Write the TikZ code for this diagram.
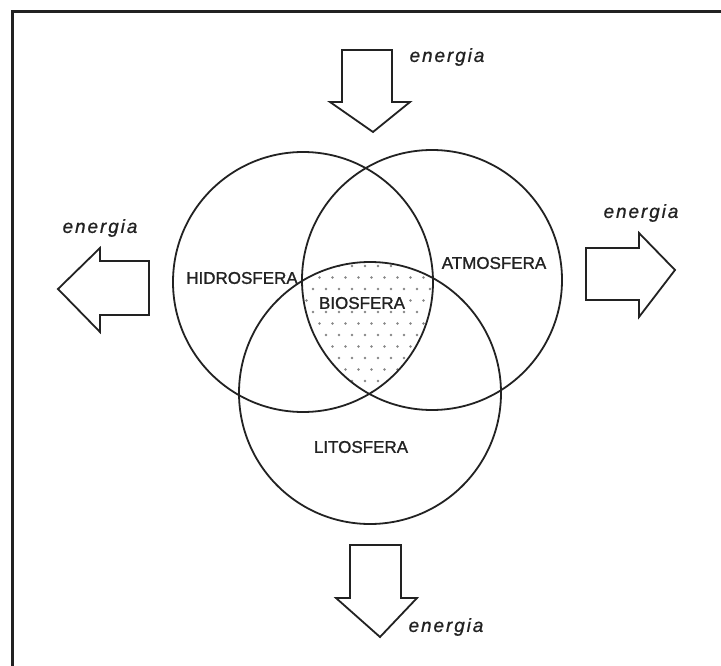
\documentclass[tikz,border=0pt]{standalone}
\usepackage{fontspec}
\setmainfont{Liberation Sans}
\newfontfamily\labfont[FakeBold=1.2]{Liberation Sans}
\newfontfamily\enfont[LetterSpace=10,FakeBold=0.8]{Liberation Sans}
\definecolor{ink}{HTML}{222222}
\begin{document}
\begin{tikzpicture}[x=1pt,y=-1pt,
  sphere/.style={draw=ink,line width=1.8pt},
  lab/.style={text=ink,inner sep=0pt,font=\labfont\fontsize{17}{20}\selectfont},
  enlab/.style={text=ink,inner sep=0pt,font=\enfont\itshape\fontsize{19}{22}\selectfont},
  bigarrow/.style={draw=ink,line width=1.8pt,line join=miter,fill=white}]
\useasboundingbox (0,0) rectangle (721,666);
\fill[white] (0,0) rectangle (721,666);
% frame
\draw[ink,line width=2.2pt] (721,11.5) -- (12.5,11.5) -- (12.5,666);
% circle centres
\coordinate (ch) at (303,282);
\coordinate (ca) at (432,280);
\coordinate (cl) at (370,393);
% dotted biosphere
\begin{scope}
  \clip (ch) circle[radius=130pt];
  \clip (ca) circle[radius=130pt];
  \clip (cl) circle[radius=131pt];
  \foreach \r in {0,...,14}{
    \foreach \c in {0,...,11}{
      \fill[gray!95] ({300+\c*13+mod(\r,2)*6.5},{266+\r*11.5}) circle[radius=1.35pt];
    }
  }
\end{scope}
\draw[sphere] (ch) circle[radius=130pt];
\draw[sphere] (ca) circle[radius=130pt];
\draw[sphere] (cl) circle[radius=131pt];
% labels
\node[lab] (hidro) at (242,278) {HIDROSFERA};
\node[lab] (atmo) at (494,263) {ATMOSFERA};
\node[lab,fill=white,inner sep=1pt] (bio) at (362,303) {BIOSFERA};
\node[lab] (lito) at (361,447) {LITOSFERA};
% arrows
\draw[bigarrow] (342,50) -- (392,50) -- (392,102) -- (410,102) -- (373,132) -- (330,102) -- (342,102) -- cycle;
\draw[bigarrow] (149,261) -- (100,261) -- (100,248) -- (58,289) -- (100,332) -- (100,315) -- (149,315) -- cycle;
\draw[bigarrow] (586,248) -- (639,248) -- (639,233) -- (675,270) -- (639,317) -- (639,300) -- (586,300) -- cycle;
\draw[bigarrow] (350,545) -- (401,545) -- (401,598) -- (417,598) -- (380,637) -- (336,598) -- (350,598) -- cycle;
% energy labels
\node[enlab] (etop) at (447,57) {energia};
\node[enlab] (eleft) at (100,228) {energia};
\node[enlab] (eright) at (641,213) {energia};
\node[enlab] (ebot) at (446,627) {energia};
\end{tikzpicture}
\end{document}
